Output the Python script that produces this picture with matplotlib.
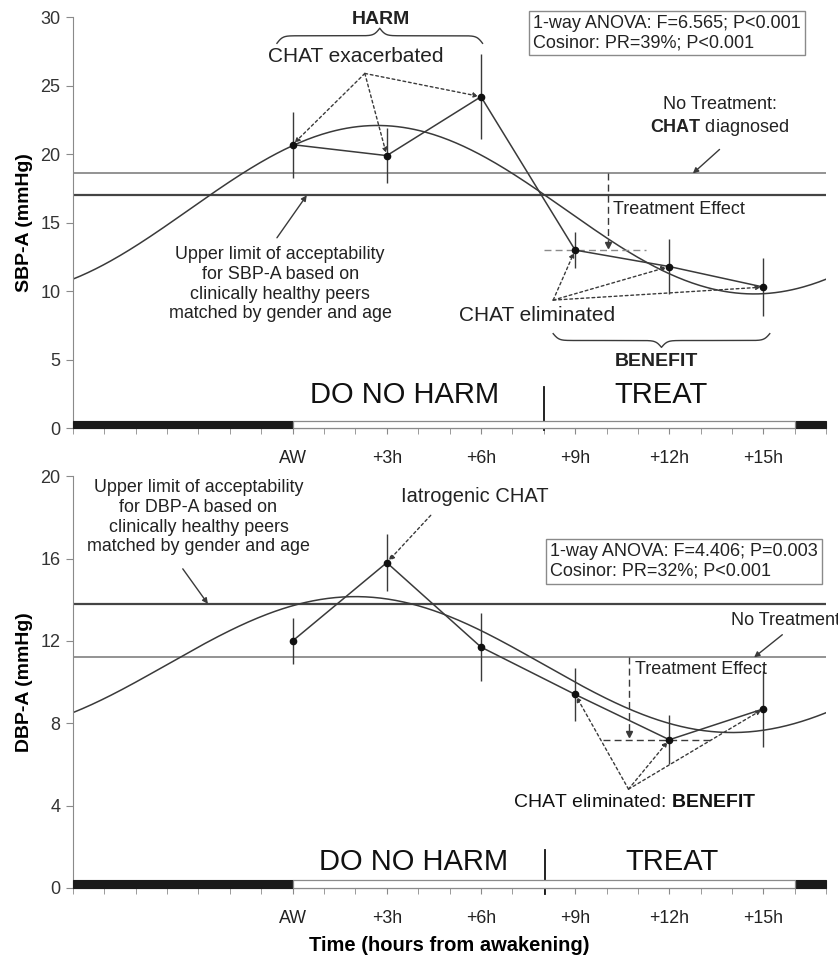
import numpy as np
import matplotlib
matplotlib.use("Agg")
import matplotlib.pyplot as plt
from matplotlib.patches import Rectangle

plt.rcParams['font.family'] = ['Liberation Sans', 'DejaVu Sans']
plt.rcParams['mathtext.fontset'] = 'custom'
plt.rcParams['mathtext.rm'] = 'Liberation Sans'
plt.rcParams['mathtext.bf'] = 'Liberation Sans:bold'

# ---------------- data ----------------
hours = [0, 3, 6, 9, 12, 15]
tick_labels = ['AW', '+3h', '+6h', '+9h', '+12h', '+15h']

sbp_mean = [20.7, 19.9, 24.2, 13.0, 11.8, 10.3]
sbp_err = [2.4, 2.0, 3.1, 1.3, 2.0, 2.1]
sbp_limit = 17.0          # upper limit of acceptability
sbp_notreat = 18.6        # no treatment level
sbp_treated = 13.0        # treatment effect level
sbp_mesor, sbp_amp, sbp_acro = 15.95, 6.15, 2.7   # cosinor (period 24 h)

dbp_mean = [12.0, 15.8, 11.7, 9.4, 7.2, 8.7]
dbp_err = [1.1, 1.4, 1.65, 1.3, 1.2, 1.85]
dbp_limit = 13.8
dbp_notreat = 11.2
dbp_treated = 7.2
dbp_mesor, dbp_amp, dbp_acro = 10.85, 3.3, 2.0

sleep_spans = [(-7, 0), (16, 17)]
wake_span = (0, 16)
XMIN, XMAX = -7, 17
PERIOD = 24.0

LINE = '#3a3a3a'
GRAY = '#8a8a8a'
TXT = '#222222'

fig = plt.figure(figsize=(8.38, 9.6), dpi=100)
ax1 = fig.add_axes([0.087, 0.554, 0.899, 0.428])
ax2 = fig.add_axes([0.087, 0.075, 0.899, 0.429])


def brace(ax, x0, x1, y, h, px_per_unit=31.3, beta=0.35):
    span_px = (x1 - x0) * px_per_unit
    n = 400
    t = np.linspace(0, span_px, n)
    half = t[:n // 2 + 1]
    yh = (1 / (1 + np.exp(-beta * (half - half[0]))) +
          1 / (1 + np.exp(-beta * (half - half[-1]))))
    yy = np.concatenate((yh, yh[-2::-1]))
    yy = (yy - yy.min()) / (yy.max() - yy.min())
    xx = x0 + np.linspace(0, span_px, len(yy)) / px_per_unit
    ax.plot(xx, y + h * yy, color=LINE, lw=1.0, clip_on=False)


def base_axes(ax, ymax, ystep, bar_h):
    ax.set_xlim(XMIN, XMAX)
    ax.set_ylim(0, ymax)
    for s in ['top', 'right']:
        ax.spines[s].set_visible(False)
    ax.spines['left'].set_color(GRAY)
    ax.spines['bottom'].set_color(GRAY)
    ax.set_yticks(np.arange(0, ymax + 0.01, ystep))
    ax.set_xticks(hours)
    ax.set_xticklabels(tick_labels)
    ax.set_xticks(np.arange(XMIN, XMAX + 1, 1), minor=True)
    ax.tick_params(axis='x', which='both', length=4, color=GRAY, pad=12,
                   labelsize=12.8, labelcolor='#222222')
    ax.tick_params(axis='y', length=5, color=GRAY, labelsize=13,
                   labelcolor='#333333', pad=4)
    for a, b in sleep_spans:
        ax.add_patch(Rectangle((a, 0), b - a, bar_h, facecolor='#1a1a1a',
                               edgecolor='#1a1a1a', lw=0.8, zorder=3, clip_on=False))
    ax.add_patch(Rectangle((wake_span[0], 0), wake_span[1] - wake_span[0], bar_h,
                           facecolor='white', edgecolor=GRAY, lw=0.9, zorder=3,
                           clip_on=False))


def cosinor(x, m, a, phi):
    return m + a * np.cos(2 * np.pi * (x - phi) / PERIOD)


xs = np.linspace(XMIN, XMAX, 400)

# ================= top panel (SBP-A) =================
base_axes(ax1, 30, 5, 0.55)
ax1.set_ylabel('SBP-A (mmHg)', fontsize=14, fontweight='bold', labelpad=5)
ax1.axhline(sbp_notreat, color=GRAY, lw=1.3, zorder=1)
ax1.axhline(sbp_limit, color='#444444', lw=1.6, zorder=1)
ax1.plot(xs, cosinor(xs, sbp_mesor, sbp_amp, sbp_acro), color=LINE, lw=1.1)
ax1.errorbar(hours, sbp_mean, yerr=sbp_err, color=LINE, lw=1.1, elinewidth=1.0,
             marker='o', ms=4.5, mfc='#111111', mec='#111111', capsize=0)

# CHAT exacerbated
apex = (2.3, 25.9)
for h, v in zip(hours[:3], sbp_mean[:3]):
    ax1.annotate('', xy=(h, v), xytext=apex,
                 arrowprops=dict(arrowstyle='-|>', ls=(0, (2, 2)), lw=1.0,
                                 color=LINE, mutation_scale=7, shrinkA=0, shrinkB=2))
ax1.text(2.0, 27.15, 'CHAT exacerbated', ha='center', va='center', fontsize=15,
         color=TXT)
brace(ax1, -0.5, 6.05, 28.1, 1.1)
ax1.text(2.8, 29.85, 'HARM', ha='center', va='center', fontsize=14,
         fontweight='bold', color=TXT, clip_on=False)

# CHAT eliminated
apex2 = (8.3, 9.35)
for h, v in zip(hours[3:], sbp_mean[3:]):
    ax1.annotate('', xy=(h, v), xytext=apex2,
                 arrowprops=dict(arrowstyle='-|>', ls=(0, (2, 2)), lw=1.0,
                                 color=LINE, mutation_scale=7, shrinkA=0, shrinkB=2))
ax1.text(7.8, 8.25, 'CHAT eliminated', ha='center', va='center', fontsize=15,
         color=TXT)
brace(ax1, 8.3, 15.2, 6.9, -1.0)
ax1.text(11.6, 4.85, 'BENEFIT', ha='center', va='center', fontsize=14,
         fontweight='bold', color=TXT)

# treatment effect
ax1.plot([10.05, 10.05], [sbp_notreat, sbp_treated + 0.35], color=LINE, lw=1.0,
         ls=(0, (5, 3)))
ax1.plot([10.05], [sbp_treated + 0.35], marker='v', ms=4, color=LINE)
ax1.plot([8.0, 11.25], [sbp_treated, sbp_treated], color=GRAY, lw=1.0,
         ls=(0, (5, 3)))
ax1.text(10.2, 16.0, 'Treatment Effect', ha='left', va='center', fontsize=13,
         color=TXT)

# no treatment
ax1.text(13.6, 23.6, 'No Treatment:', ha='center', va='center', fontsize=13,
         color=TXT)
ax1.text(13.6, 21.95, r'$\mathbf{CHAT}$ diagnosed', ha='center', va='center',
         fontsize=13, color=TXT)
ax1.annotate('', xy=(12.75, sbp_notreat), xytext=(13.6, 20.35),
             arrowprops=dict(arrowstyle='-|>', lw=1.0, color=LINE,
                             mutation_scale=8, shrinkA=0, shrinkB=0))

# upper limit
ax1.text(-0.4, 10.5, 'Upper limit of acceptability\nfor SBP-A based on\n'
         'clinically healthy peers\nmatched by gender and age',
         ha='center', va='center', fontsize=12.9, color=TXT, linespacing=1.2)
ax1.annotate('', xy=(0.45, sbp_limit), xytext=(-0.5, 13.9),
             arrowprops=dict(arrowstyle='-|>', lw=1.0, color=LINE,
                             mutation_scale=8, shrinkA=0, shrinkB=0))

ax1.text(7.66, 30.2, '1-way ANOVA: F=6.565; P<0.001\nCosinor: PR=39%; P<0.001',
         ha='left', va='top', fontsize=13, color=TXT, linespacing=1.2,
         bbox=dict(boxstyle='square,pad=0.22', fc='white', ec=GRAY, lw=1.0),
         clip_on=False)

ax1.text(3.55, 2.45, 'DO NO HARM', ha='center', va='center', fontsize=21,
         color='#111111')
ax1.text(11.75, 2.45, 'TREAT', ha='center', va='center', fontsize=21,
         color='#111111')
ax1.plot([8.0, 8.0], [-0.1, 3.0], color='#111111', lw=1.3, clip_on=False)

# ================= bottom panel (DBP-A) =================
base_axes(ax2, 20, 4, 0.4)
ax2.set_ylabel('DBP-A (mmHg)', fontsize=14, fontweight='bold', labelpad=5)
ax2.set_xlabel('Time (hours from awakening)', fontsize=14.5, fontweight='bold',
               labelpad=6)
ax2.axhline(dbp_limit, color='#444444', lw=1.6, zorder=1)
ax2.axhline(dbp_notreat, color=GRAY, lw=1.3, zorder=1)
ax2.plot(xs, cosinor(xs, dbp_mesor, dbp_amp, dbp_acro), color=LINE, lw=1.1)
ax2.errorbar(hours, dbp_mean, yerr=dbp_err, color=LINE, lw=1.1, elinewidth=1.0,
             marker='o', ms=4.5, mfc='#111111', mec='#111111', capsize=0)

ax2.text(5.8, 19.0, 'Iatrogenic CHAT', ha='center', va='center', fontsize=14.5,
         color=TXT)
ax2.annotate('', xy=(hours[1], dbp_mean[1]), xytext=(4.4, 18.1),
             arrowprops=dict(arrowstyle='-|>', ls=(0, (2, 2)), lw=1.0, color=LINE,
                             mutation_scale=8, shrinkA=0, shrinkB=2))

ax2.text(-3.0, 18.0, 'Upper limit of acceptability\nfor DBP-A based on\n'
         'clinically healthy peers\nmatched by gender and age',
         ha='center', va='center', fontsize=12.9, color=TXT, linespacing=1.2)
ax2.annotate('', xy=(-2.7, dbp_limit), xytext=(-3.5, 15.5),
             arrowprops=dict(arrowstyle='-|>', lw=1.0, color=LINE,
                             mutation_scale=8, shrinkA=0, shrinkB=0))

ax2.text(8.2, 16.75, '1-way ANOVA: F=4.406; P=0.003\nCosinor: PR=32%; P<0.001',
         ha='left', va='top', fontsize=13, color=TXT, linespacing=1.2,
         bbox=dict(boxstyle='square,pad=0.22', fc='white', ec=GRAY, lw=1.0))

ax2.text(13.95, 13.0, 'No Treatment', ha='left', va='center', fontsize=13,
         color=TXT, clip_on=False)
ax2.annotate('', xy=(14.7, dbp_notreat), xytext=(15.6, 12.3),
             arrowprops=dict(arrowstyle='-|>', lw=1.0, color=LINE,
                             mutation_scale=8, shrinkA=0, shrinkB=0))

ax2.plot([10.7, 10.7], [dbp_notreat, dbp_treated + 0.3], color=LINE, lw=1.0,
         ls=(0, (5, 3)))
ax2.plot([10.7], [dbp_treated + 0.3], marker='v', ms=4, color=LINE)
ax2.plot([9.9, 13.4], [dbp_treated, dbp_treated], color=LINE, lw=1.0,
         ls=(0, (5, 3)))
ax2.text(10.9, 10.6, 'Treatment Effect', ha='left', va='center', fontsize=13,
         color=TXT)

apex3 = (10.7, 4.8)
for h, v in zip(hours[3:], dbp_mean[3:]):
    ax2.annotate('', xy=(h, v), xytext=apex3,
                 arrowprops=dict(arrowstyle='-|>', ls=(0, (2, 2)), lw=1.0,
                                 color=LINE, mutation_scale=7, shrinkA=0, shrinkB=2))
ax2.text(10.9, 4.15, r'CHAT eliminated: $\mathbf{BENEFIT}$', ha='center',
         va='center', fontsize=14, color='#111111')

ax2.text(3.85, 1.25, 'DO NO HARM', ha='center', va='center', fontsize=21,
         color='#111111')
ax2.text(12.1, 1.25, 'TREAT', ha='center', va='center', fontsize=21,
         color='#111111')
ax2.plot([8.05, 8.05], [-0.3, 1.85], color='#111111', lw=1.3, clip_on=False)

fig.savefig('out.png', dpi=100)
